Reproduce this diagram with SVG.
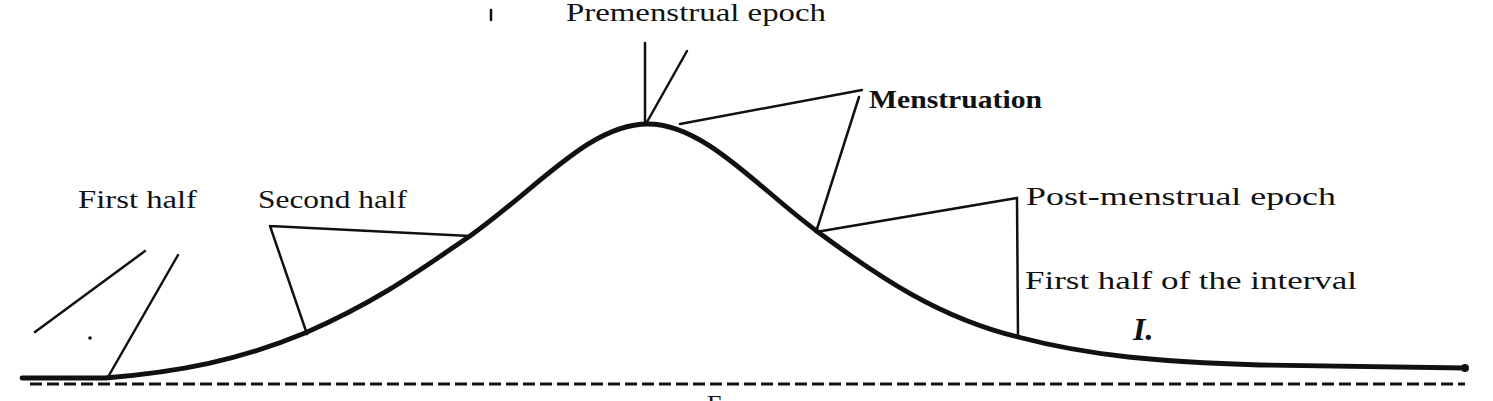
<svg xmlns="http://www.w3.org/2000/svg" width="1493" height="401" viewBox="0 0 1493 401">
<style>
.t{font-family:"Liberation Serif","DejaVu Serif",serif;font-size:26px;fill:#111}
.b{font-weight:bold}
.big{font-size:32px;font-style:italic}
.ln{stroke:#111;stroke-width:2.5;fill:none;stroke-linecap:round}
.curve{stroke:#111;stroke-width:4.8;fill:none;stroke-linecap:round}
.dash{stroke:#111;stroke-width:3;fill:none;stroke-dasharray:12 5}
</style>
<rect width="1493" height="401" fill="#fff"/>
<g id="curve">
<path class="curve" d="M22,378 L105,378 C180,372 240,360 305,333 C380,300 420,270 470,236 C540,186 590,124 648,124 C705,124 760,190 818,232 C880,278 940,318 1018,337 C1090,356 1160,362 1260,365 L1465,368"/>
<circle cx="1465" cy="368" r="4" fill="#111"/>
<path class="dash" d="M30,384 L1465,384"/>
</g>
<g id="connectors">
<path class="ln" d="M35,332 L145,251"/>
<path class="ln" d="M108,377 L178,255"/>
<circle cx="90" cy="338" r="1.8" fill="#111"/>
<path class="ln" d="M270,226 L470,236 M270,226 L307,334"/>
<path class="ln" d="M645,43 L645,122 M687,51 L647,122"/>
<path class="ln" d="M680,124 L862,90 M859,97 L816,232"/>
<path class="ln" d="M816,232 L1017,198 L1018,337"/>
<path class="ln" d="M491,10 L491,20" stroke-width="1.5"/>
</g>
<g id="label-premenstrual"><text class="t" x="566" y="21" textLength="260" lengthAdjust="spacingAndGlyphs">Premenstrual epoch</text></g>
<g id="label-menstruation"><text class="t b" x="869" y="108" textLength="173" lengthAdjust="spacingAndGlyphs">Menstruation</text></g>
<g id="label-postmenstrual"><text class="t" x="1026" y="205" textLength="310" lengthAdjust="spacingAndGlyphs">Post-menstrual epoch</text></g>
<g id="label-interval"><text class="t" x="1025" y="289" textLength="332" lengthAdjust="spacingAndGlyphs">First half of the interval</text></g>
<g id="label-I"><text class="t b big" x="1133" y="340">I.</text></g>
<g id="label-firsthalf"><text class="t" x="78" y="208" textLength="119" lengthAdjust="spacingAndGlyphs">First half</text></g>
<g id="label-secondhalf"><text class="t" x="258" y="208" textLength="149" lengthAdjust="spacingAndGlyphs">Second half</text></g>
<g id="label-E"><text class="t" x="707" y="413">E</text></g>
</svg>
